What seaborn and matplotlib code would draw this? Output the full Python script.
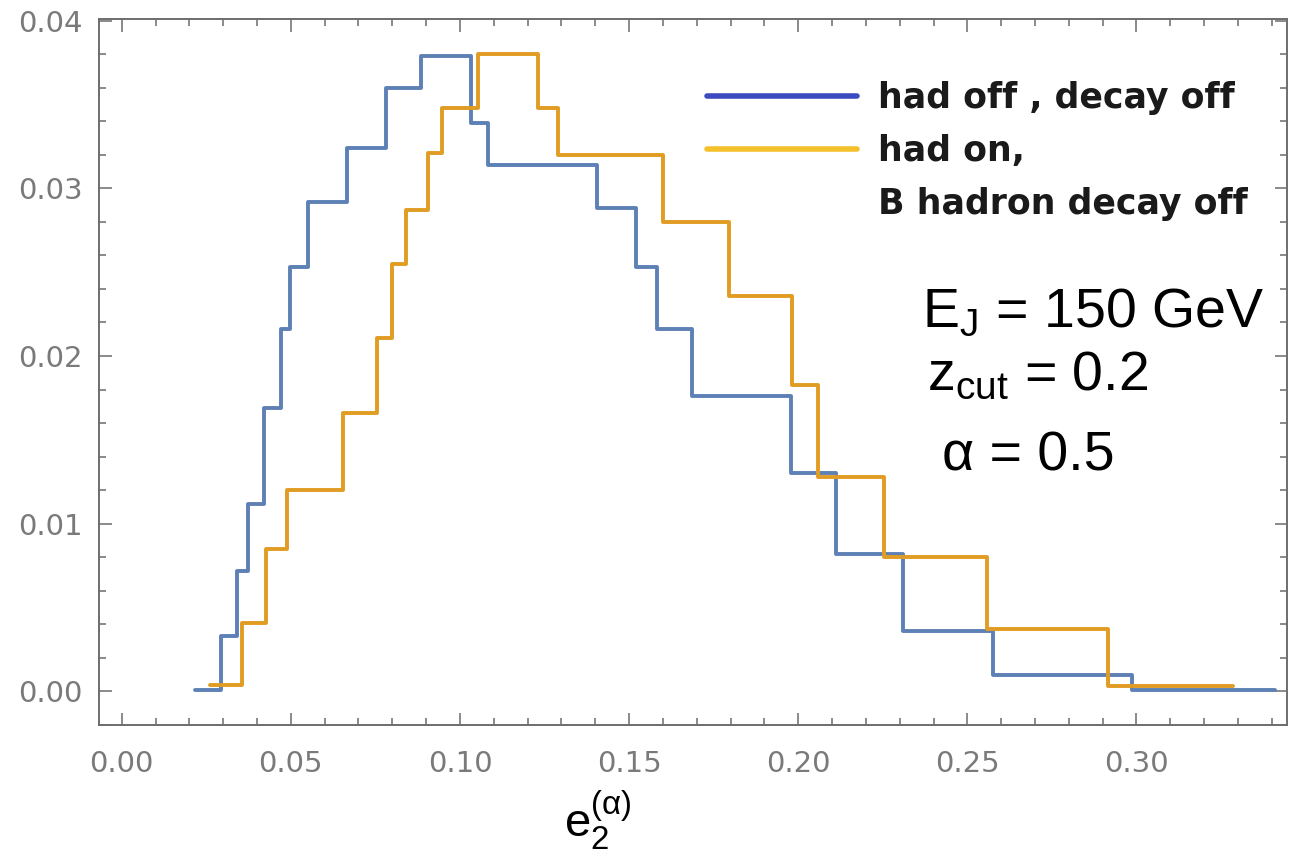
import numpy as np
import pandas as pd
import matplotlib.pyplot as plt
from matplotlib.lines import Line2D
from matplotlib.ticker import MultipleLocator, FormatStrFormatter
import seaborn as sns

# variable-width bins
off_edges = [0.0217, 0.0293, 0.0341, 0.0373, 0.0421, 0.0471, 0.0497, 0.0551, 0.0666, 0.0781,
             0.0885, 0.1032, 0.1083, 0.1405, 0.1520, 0.1582, 0.1686, 0.1978, 0.2111, 0.2309,
             0.2575, 0.2986, 0.3409]
off_heights = [0.0001, 0.0033, 0.0072, 0.0112, 0.0169, 0.0216, 0.0253, 0.0292, 0.0324, 0.0360,
               0.0379, 0.0339, 0.0314, 0.0288, 0.0253, 0.0216, 0.0176, 0.0130, 0.0082, 0.0036,
               0.0010, 0.0001]

on_edges = [0.0261, 0.0356, 0.0427, 0.0489, 0.0654, 0.0755, 0.0799, 0.0840, 0.0905, 0.0947,
            0.1053, 0.1230, 0.1289, 0.1600, 0.1795, 0.1981, 0.2058, 0.2253, 0.2557, 0.2915,
            0.3285]
on_heights = [0.0004, 0.0041, 0.0085, 0.0120, 0.0166, 0.0211, 0.0255, 0.0287, 0.0321, 0.0348,
              0.0380, 0.0348, 0.0320, 0.0280, 0.0236, 0.0183, 0.0128, 0.0080, 0.0037, 0.0003]

legend_labels = ["had off , decay off", "had on,", "B hadron decay off"]

sns.set_style("ticks")
plt.rcParams["font.family"] = ["DejaVu Sans"]

fig, ax = plt.subplots(figsize=(12.91, 8.6), dpi=100)
fig.subplots_adjust(left=0.0767, right=0.9969, bottom=0.157, top=0.978)

for edges, heights, color in [(off_edges, off_heights, "#5E81B5"),
                              (on_edges, on_heights, "#E19C24")]:
    e = np.array(edges)
    df = pd.DataFrame({"e2": (e[:-1] + e[1:]) / 2, "w": heights})
    sns.histplot(data=df, x="e2", weights="w", bins=list(edges), element="step",
                 fill=False, color=color, linewidth=2.8, ax=ax)

ax.set_xlim(-0.0067, 0.3445)
ax.set_ylim(-0.002, 0.0401)
ax.xaxis.set_major_locator(MultipleLocator(0.05))
ax.xaxis.set_minor_locator(MultipleLocator(0.01))
ax.yaxis.set_major_locator(MultipleLocator(0.01))
ax.yaxis.set_minor_locator(MultipleLocator(0.002))
ax.xaxis.set_major_formatter(FormatStrFormatter("%.2f"))
ax.yaxis.set_major_formatter(FormatStrFormatter("%.2f"))

ax.tick_params(which="both", direction="in", top=True, right=True,
               color="#777777", labelcolor="#7a7a7a", labelsize=21, width=1.2)
ax.tick_params(which="major", length=9)
ax.tick_params(which="minor", length=5)
ax.tick_params(axis="x", pad=18)
ax.tick_params(axis="y", pad=12)
for sp in ax.spines.values():
    sp.set_color("#6e6e6e")
    sp.set_linewidth(1.4)

ax.set_ylabel("")
ax.set_xlabel(r"e$_\mathregular{2}^\mathregular{(α)}$", fontsize=34,
              family="Liberation Sans", color="black")
ax.xaxis.set_label_coords(0.42, -0.09)

handles = [Line2D([], [], color="#3D4BC1", lw=4),
           Line2D([], [], color="#F4C12B", lw=4),
           Line2D([], [], color="none")]
ax.legend(handles, legend_labels, loc="upper left", bbox_to_anchor=(0.512, 0.912),
          frameon=False, borderpad=0, borderaxespad=0, handlelength=4.3,
          handletextpad=0.62, labelspacing=0.55, labelcolor="#1a1a1a",
          prop={"family": "DejaVu Sans", "weight": "bold", "size": 25})

txt = dict(transform=ax.transAxes, family="Liberation Sans", fontsize=40,
           va="baseline", color="black")
ax.text(0.693, 0.564, r"E$_\mathregular{J}$ = 150 GeV", **txt)
ax.text(0.697, 0.4745, r"z$_\mathregular{cut}$ = 0.2", **txt)
ax.text(0.71, 0.361, "α = 0.5", **txt)

fig.savefig("out.png", dpi=100)
